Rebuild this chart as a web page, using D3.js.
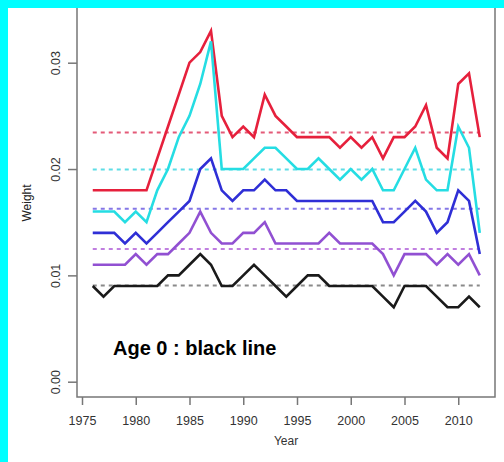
<!DOCTYPE html>
<html>
<head>
<meta charset="utf-8">
<script src="https://cdn.jsdelivr.net/npm/d3@7"></script>
<style>
  body { margin: 0; background: #fff; }
  svg { display: block; font-family: "Liberation Sans", Arial, sans-serif; }
</style>
</head>
<body>
<div id="grafico"></div>
<script>
// Dados (ano e peso por idade)
const anos = d3.range(1976, 2013);
const idade4 = [0.018, 0.018, 0.018, 0.018, 0.018, 0.018, 0.021, 0.024, 0.027, 0.030, 0.031, 0.033, 0.025, 0.023, 0.024, 0.023, 0.027, 0.025, 0.024, 0.023, 0.023, 0.023, 0.023, 0.022, 0.023, 0.022, 0.023, 0.021, 0.023, 0.023, 0.024, 0.026, 0.022, 0.021, 0.028, 0.029, 0.023];
const idade3 = [0.016, 0.016, 0.016, 0.015, 0.016, 0.015, 0.018, 0.020, 0.023, 0.025, 0.028, 0.032, 0.020, 0.020, 0.020, 0.021, 0.022, 0.022, 0.021, 0.020, 0.020, 0.021, 0.020, 0.019, 0.020, 0.019, 0.020, 0.018, 0.018, 0.020, 0.022, 0.019, 0.018, 0.018, 0.024, 0.022, 0.014];
const idade2 = [0.014, 0.014, 0.014, 0.013, 0.014, 0.013, 0.014, 0.015, 0.016, 0.017, 0.020, 0.021, 0.018, 0.017, 0.018, 0.018, 0.019, 0.018, 0.018, 0.017, 0.017, 0.017, 0.017, 0.017, 0.017, 0.017, 0.017, 0.015, 0.015, 0.016, 0.017, 0.016, 0.014, 0.015, 0.018, 0.017, 0.012];
const idade1 = [0.011, 0.011, 0.011, 0.011, 0.012, 0.011, 0.012, 0.012, 0.013, 0.014, 0.016, 0.014, 0.013, 0.013, 0.014, 0.014, 0.015, 0.013, 0.013, 0.013, 0.013, 0.013, 0.014, 0.013, 0.013, 0.013, 0.013, 0.012, 0.010, 0.012, 0.012, 0.012, 0.011, 0.012, 0.011, 0.012, 0.010];
const idade0 = [0.009, 0.008, 0.009, 0.009, 0.009, 0.009, 0.009, 0.010, 0.010, 0.011, 0.012, 0.011, 0.009, 0.009, 0.010, 0.011, 0.010, 0.009, 0.008, 0.009, 0.010, 0.010, 0.009, 0.009, 0.009, 0.009, 0.009, 0.008, 0.007, 0.009, 0.009, 0.009, 0.008, 0.007, 0.007, 0.008, 0.007];
const ticksX = [1975, 1980, 1985, 1990, 1995, 2000, 2005, 2010];
const ticksY = [0, 0.01, 0.02, 0.03];

const series = [
  { valores: idade4, cor: '#e6203c', media: '#e45a78' },
  { valores: idade3, cor: '#25dde3', media: '#5edde6' },
  { valores: idade2, cor: '#2f2fd6', media: '#8577e6' },
  { valores: idade1, cor: '#9150d2', media: '#c07fe0' },
  { valores: idade0, cor: '#1a1a1a', media: '#8a8a8a' }
];

const largura = 504;
const altura = 462;
const caixa = { left: 77, right: 495, top: 8, bottom: 397 };

const svg = d3
  .select('#grafico')
  .append('svg')
  .attr('width', largura)
  .attr('height', altura);

// Fundo ciano nas bordas
svg.append('rect').attr('width', largura).attr('height', altura).attr('fill', '#00ffff');
svg.append('rect').attr('x', 8).attr('y', 8).attr('width', largura - 8).attr('height', altura - 8).attr('fill', '#fff');

// Escalas
const x = d3.scaleLinear().domain([1975, 2010]).range([82, 458.25]);
const y = d3.scaleLinear().domain([0, 0.03]).range([381.7, 62.7]);

// Médias (tracejadas)
series.forEach((s) => {
  const m = d3.mean(s.valores);
  svg
    .append('line')
    .attr('x1', x(anos[0]))
    .attr('x2', x(anos[anos.length - 1]))
    .attr('y1', y(m))
    .attr('y2', y(m))
    .attr('stroke', s.media)
    .attr('stroke-width', 2)
    .attr('stroke-dasharray', '4,4');
});

// Linhas
const linha = d3
  .line()
  .x((d, i) => x(anos[i]))
  .y((d) => y(d));

series.forEach((s) => {
  svg
    .append('path')
    .datum(s.valores)
    .attr('fill', 'none')
    .attr('stroke', s.cor)
    .attr('stroke-width', 2.6)
    .attr('stroke-linejoin', 'miter')
    .attr('d', linha);
});

// Caixa
svg
  .append('path')
  .attr('d', `M${caixa.left},${caixa.top}V${caixa.bottom}H${caixa.right}V${caixa.top}`)
  .attr('fill', 'none')
  .attr('stroke', '#777')
  .attr('stroke-width', 1.5);

// Eixos
const eixoX = svg
  .append('g')
  .attr('transform', `translate(0,${caixa.bottom})`)
  .call(d3.axisBottom(x).tickValues(ticksX).tickFormat(d3.format('d')).tickSize(8).tickPadding(11));

const eixoY = svg
  .append('g')
  .attr('transform', `translate(${caixa.left},0)`)
  .call(d3.axisLeft(y).tickValues(ticksY).tickFormat(d3.format('.2f')).tickSize(9).tickPadding(0));

[eixoX, eixoY].forEach((g) => {
  g.select('.domain').remove();
  g.selectAll('.tick line').attr('stroke', '#777').attr('stroke-width', 1.5);
  g.selectAll('.tick text').attr('fill', '#333').style('font-size', '12.5px');
});

eixoY
  .selectAll('.tick text')
  .attr('x', 0)
  .attr('dy', 0)
  .attr('text-anchor', 'middle')
  .attr('transform', 'translate(-17,0) rotate(-90)');

// Rótulos
svg
  .append('text')
  .attr('x', (caixa.left + caixa.right) / 2)
  .attr('y', 445)
  .attr('text-anchor', 'middle')
  .attr('fill', '#333')
  .style('font-size', '12px')
  .text('Year');

svg
  .append('text')
  .attr('transform', 'translate(31,203) rotate(-90)')
  .attr('text-anchor', 'middle')
  .attr('fill', '#222')
  .style('font-size', '12px')
  .text('Weight');

svg
  .append('text')
  .attr('x', 113)
  .attr('y', 355)
  .attr('fill', '#000')
  .style('font-size', '20px')
  .style('font-weight', 'bold')
  .text('Age 0 : black line');
</script>
</body>
</html>
